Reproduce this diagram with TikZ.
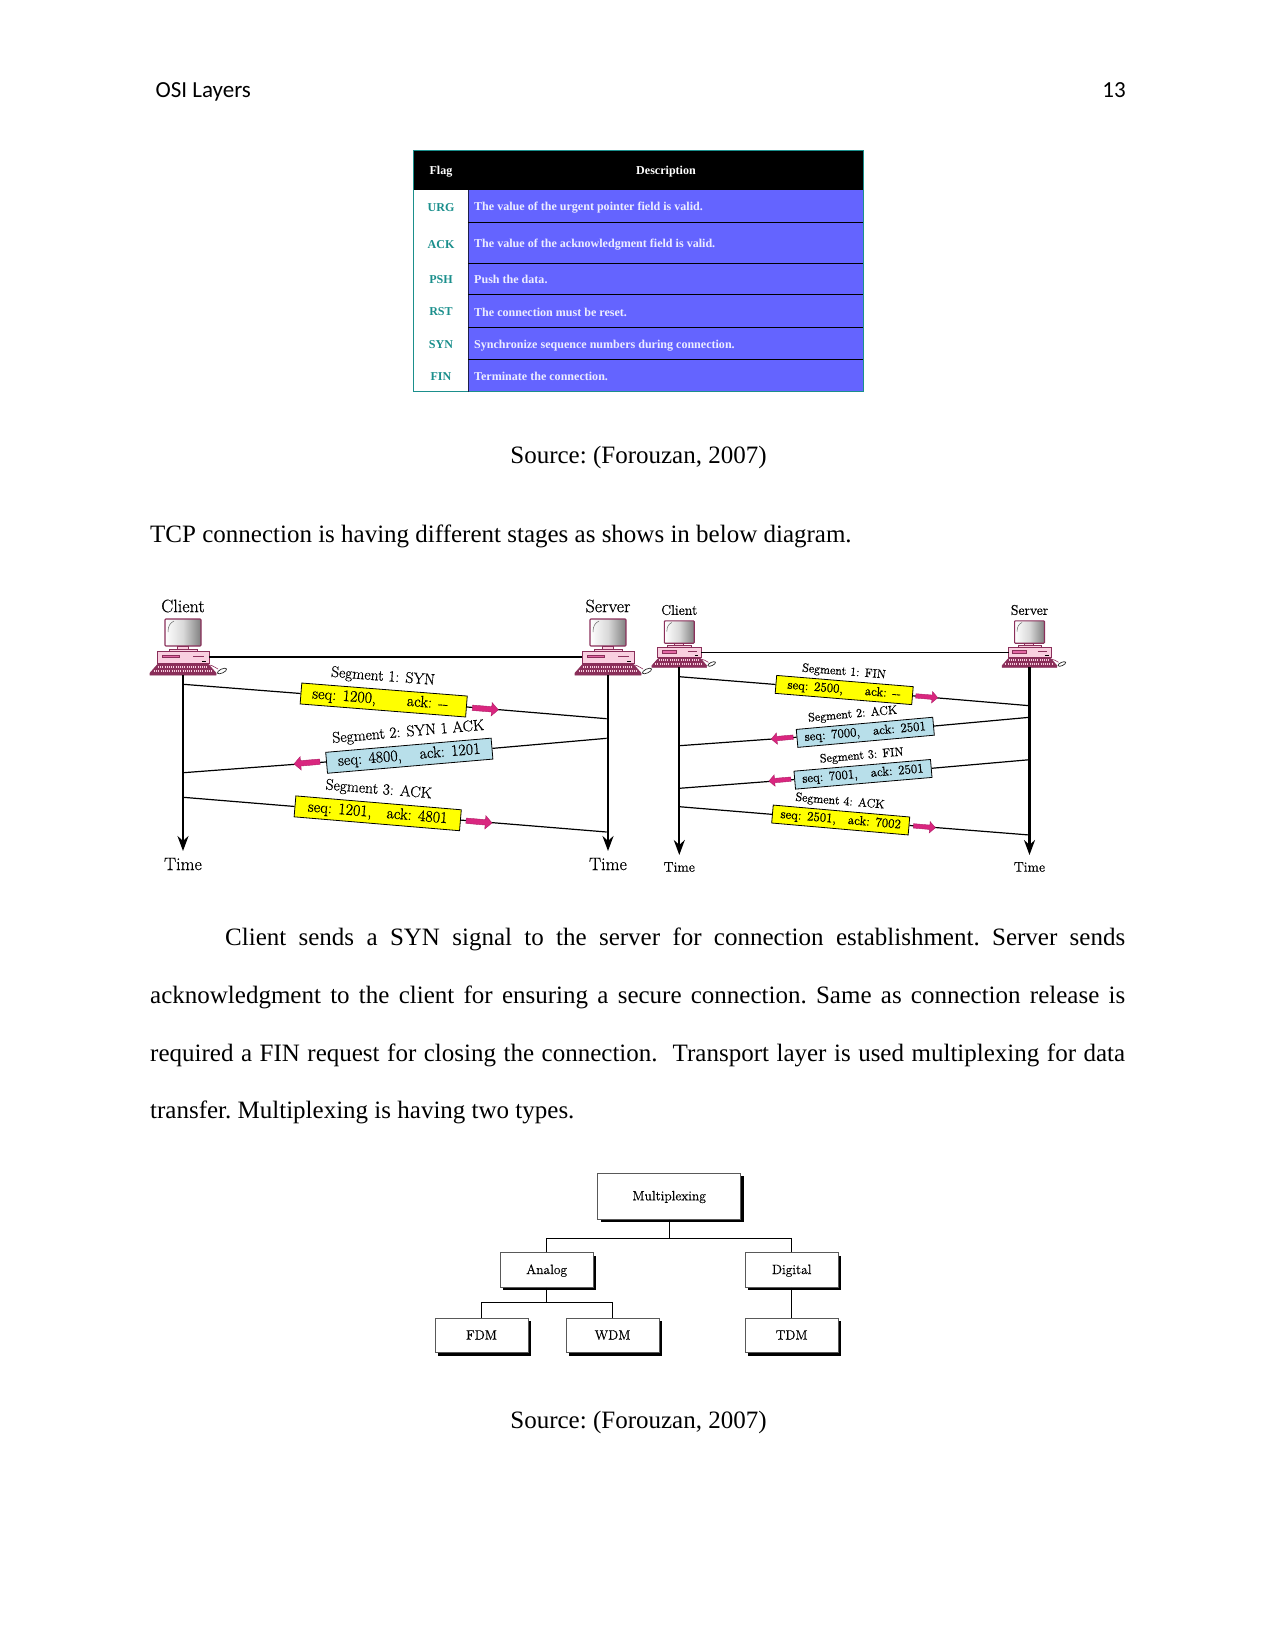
\documentclass[tikz,border=0pt]{standalone}
\usepackage{fontspec}
\usetikzlibrary{arrows.meta,shapes.arrows,shadows}
\newfontfamily\bodyfont{Liberation Serif}
\newfontfamily\headfont{Carlito}
\newfontfamily\diagfont[FakeBold=0.5]{Latin Modern Roman}
\definecolor{flagblue}{HTML}{6464FF}
\definecolor{flagteal}{HTML}{1B8F8C}
\definecolor{segyellow}{HTML}{FFFF00}
\definecolor{segblue}{HTML}{B8DFEA}
\definecolor{arrowpink}{HTML}{D9267F}
\definecolor{pcpink}{HTML}{F9CFE0}
\definecolor{pcdark}{HTML}{8A2F5A}
\tikzset{
 headtext/.style={inner sep=0pt,font=\headfont\fontsize{23}{27}\selectfont},
 bodytext/.style={inner sep=0pt,font=\frenchspacing\bodyfont\fontsize{25}{30}\selectfont},
 flagname/.style={inner sep=0pt,text=flagteal,font=\bodyfont\bfseries\fontsize{12.05}{14}\selectfont},
 flagdesc/.style={inner sep=0pt,anchor=west,text=white!88!flagblue,font=\bodyfont\bfseries\fontsize{12.05}{14}\selectfont},
 flaghead/.style={inner sep=0pt,text=white,font=\bodyfont\bfseries\fontsize{12.05}{14}\selectfont},
 bigtext/.style={inner sep=0pt,font=\diagfont\fontsize{18}{21}\selectfont},
 smalltext/.style={inner sep=0pt,font=\diagfont\fontsize{14}{17}\selectfont},
 segtext/.style={inner sep=0pt,font=\diagfont\fontsize{15.5}{18}\selectfont},
 segsmall/.style={inner sep=0pt,font=\diagfont\fontsize{12.2}{15}\selectfont},
 bigseg/.style={draw=black,line width=0.8pt,inner sep=0pt,minimum width=166pt,minimum height=21pt,font=\diagfont\fontsize{16}{18}\selectfont},
 smallseg/.style={draw=black,line width=0.8pt,inner sep=0pt,minimum width=137pt,minimum height=18pt,font=\diagfont\fontsize{13}{15}\selectfont},
 bigarrow/.style={single arrow,fill=arrowpink,draw=arrowpink!80!black,line width=0.4pt,inner sep=2.5pt,minimum height=26pt,single arrow head extend=4pt,single arrow head indent=0pt},
 smallarrow/.style={bigarrow,inner sep=2pt,minimum height=22pt,single arrow head extend=3.5pt},
 axisline/.style={line width=2.1pt,-{Stealth[length=15pt,width=11pt]}},
 thinline/.style={line width=1.2pt},
 muxbox/.style={draw=black!65,fill=white,line width=0.8pt,inner sep=0pt,minimum width=93pt,minimum height=34.5pt,text height=8pt,text depth=0pt,font=\diagfont\fontsize{13.5}{16}\selectfont,
  drop shadow={shadow xshift=3pt,shadow yshift=-3pt,fill=black,opacity=1}},
 muxline/.style={line width=1pt},
 computer/.pic={
  % monitor
  \draw[pcdark,line width=1.1pt,rounded corners=0.8pt,left color=white,right color=black!50,middle color=black!15](-18,-56) rectangle (18,-29);
  \draw[black!60,line width=0.5pt](-15,-43) .. controls (-15,-49) and (-13,-52) .. (-9,-54);
  \draw[pcdark,line width=0.7pt,fill=pcpink](-6,-29) rectangle (5,-26);
  \draw[pcdark,line width=0.7pt,fill=pcpink](-14,-26) rectangle (14,-24);
  % box
  \draw[pcdark,line width=0.7pt,fill=pcpink](-26,-24) rectangle (26,-12);
  \draw[pcdark,line width=0.5pt,fill=arrowpink!70](-21,-20) rectangle (-4,-17.5);
  \draw[pcdark,line width=1pt](10,-19)--(21,-19);
  \draw[black,line width=1pt](19,-14)--(23,-14);
  % keyboard
  \draw[pcdark,line width=0.6pt,fill=pcdark](-25,-11) -- (25,-11) -- (33,-2) -- (33,0) -- (-33,0) -- (-33,-2) -- cycle;
  \draw[pcpink,line width=2pt,dash pattern=on 1pt off 1.2pt](-25,-8.5) -- (25,-8.5);
  \draw[pcpink,line width=2pt,dash pattern=on 1pt off 1.2pt](-29,-4.5) -- (29,-4.5);
  % mouse
  \draw[pcdark,line width=0.6pt](26,-10) .. controls (30,-10) and (32,-7) .. (35,-6);
  \draw[black!85,line width=0.7pt,fill=white,rotate around={25:(39,-4)}](39,-4) ellipse (5 and 2);
 }
}
\begin{document}
\begin{tikzpicture}[x=1pt,y=-1pt]
 \useasboundingbox (0,0) rectangle (1275,1650);
 % page head
 \node[headtext,anchor=base west] (headleft) at (155.5,97) {OSI Layers};
 \node[headtext,anchor=base east] (headright) at (1126,97) {13};
 % flag table
 \fill[black](413,150) rectangle (863,190);
 \fill[flagblue](468,190) rectangle (863,391.5);
 \draw[flagteal,line width=0.9pt](413,150) rectangle (863,391.5);
 \draw[black!70!flagblue,line width=0.8pt](468,190)--(468,391.5);
 \draw[black,line width=0.7pt](468,222.5)--(863,222.5);
 \draw[black,line width=0.7pt](468,263.5)--(863,263.5);
 \draw[black,line width=0.7pt](468,294.5)--(863,294.5);
 \draw[black,line width=0.7pt](468,327.5)--(863,327.5);
 \draw[black,line width=0.7pt](468,359.5)--(863,359.5);
 \node[flaghead] (flagtitle) at (441,171.5) {Flag};
 \node[flaghead] (desctitle) at (666,171.5) {Description};
 \node[flagname] (urg) at (441,207.5) {URG};
 \node[flagname] (ack) at (441,244.5) {ACK};
 \node[flagname] (psh) at (441,279.5) {PSH};
 \node[flagname] (rst) at (441,312) {RST};
 \node[flagname] (syn) at (441,345) {SYN};
 \node[flagname] (fin) at (441,376.5) {FIN};
 \node[flagdesc] (urgtext) at (474,208) {The value of the urgent pointer field is valid.};
 \node[flagdesc] (acktext) at (474,244.5) {The value of the acknowledgment field is valid.};
 \node[flagdesc] (pshtext) at (474,279.5) {Push the data.};
 \node[flagdesc] (rsttext) at (474,312) {The connection must be reset.};
 \node[flagdesc] (syntext) at (474,346) {Synchronize sequence numbers during connection.};
 \node[flagdesc] (fintext) at (474,376.5) {Terminate the connection.};
 % running text
 \node[bodytext] (sourceone) at (638.5,457) {Source: (Forouzan, 2007)};
 \node[bodytext,anchor=base west] (stages) at (150,542) {TCP connection is having different stages as shows in below diagram.};
 \node[inner sep=0pt,anchor=north west,text width=975pt,align=justify,font=\frenchspacing\bodyfont\fontsize{25}{57.6}\selectfont] (para) at (150,928) {\hspace*{75pt}Client sends a SYN signal to the server for connection establishment. Server sends\linebreak acknowledgment to the client for ensuring a secure connection. Same as connection release is\linebreak required a FIN request for closing the connection.\ \ Transport layer is used multiplexing for data\linebreak transfer. Multiplexing is having two types.};
 \node[bodytext] (sourcetwo) at (638.5,1422) {Source: (Forouzan, 2007)};
 % connection setup
 \pic at (183,675) {computer};
 \pic at (608,675) {computer};
 \node[bigtext] (clientA) at (183,606) {Client};
 \node[bigtext] (serverA) at (608,606) {Server};
 \node[bigtext] (timeA) at (183,864) {Time};
 \node[bigtext] (timeB) at (608,864) {Time};
 \coordinate (clienttopA) at (183,675);
 \coordinate (servertopA) at (608,675);
 \coordinate (clienttipA) at (183,851);
 \coordinate (servertipA) at (608,851);
 \coordinate (lanleftA) at (209,657);
 \coordinate (lanrightA) at (582,657);
 \draw[thinline] (lanleftA) -- (lanrightA);
 \draw[axisline] (clienttopA) -- (clienttipA);
 \draw[axisline] (servertopA) -- (servertipA);
 \coordinate (a1) at (183.3,684.3);
 \coordinate (b1) at (606.7,718.7);
 \coordinate (b2) at (606.7,738.3);
 \coordinate (a2) at (183.3,772.7);
 \coordinate (a3) at (183.3,797.3);
 \coordinate (b3) at (606.7,832);
 \node[bigseg,fill=segyellow,rotate=-4.5] (segA1) at (383.7,700) {seq: 1200,\hspace{31pt}ack: --\hspace*{7pt}};
 \node[bigseg,fill=segblue,rotate=4.9] (segA2) at (409.3,755.7) {seq: 4800,\hspace{18pt}ack: 1201};
 \node[bigseg,fill=segyellow,rotate=-4.8] (segA3) at (377.7,813.3) {seq: 1201,\hspace{15pt}ack: 4801};
 \draw[thinline] (a1) -- (segA1);
 \draw[thinline] (segA1) -- (b1);
 \draw[thinline] (b2) -- (segA2);
 \draw[thinline] (segA2) -- (a2);
 \draw[thinline] (a3) -- (segA3);
 \draw[thinline] (segA3) -- (b3);
 \node[bigarrow,rotate=-4.5] (arrowA1) at (484,708.7) {};
 \node[bigarrow,rotate=184.9] (arrowA2) at (308.3,762.7) {};
 \node[bigarrow,rotate=-4.8] (arrowA3) at (477.7,821.7) {};
 \node[segtext,rotate=-4.5] (labelA1) at (383,677) {Segment 1: SYN};
 \node[segtext,rotate=4.9] (labelA2) at (408.3,732.5) {Segment 2: SYN 1 ACK};
 \node[segtext,rotate=-4.8] (labelA3) at (378.7,790) {Segment 3: ACK};
 % connection release
 \pic[scale=0.83] at (679.3,667.3) {computer};
 \pic[scale=0.83] at (1029.5,667.3) {computer};
 \node[smalltext] (clientB) at (679.3,610) {Client};
 \node[smalltext] (serverB) at (1029.5,610) {Server};
 \node[smalltext] (timeC) at (679.3,867) {Time};
 \node[smalltext] (timeD) at (1029.5,867) {Time};
 \coordinate (clienttopB) at (679.3,667.3);
 \coordinate (servertopB) at (1029.5,667.3);
 \coordinate (clienttipB) at (679.3,855);
 \coordinate (servertipB) at (1029.5,855);
 \coordinate (lanleftB) at (701,652.3);
 \coordinate (lanrightB) at (1008.5,652.3);
 \draw[thinline] (lanleftB) -- (lanrightB);
 \draw[axisline] (clienttopB) -- (clienttipB);
 \draw[axisline] (servertopB) -- (servertipB);
 \coordinate (c1) at (679.3,676.7);
 \coordinate (d1) at (1029.5,705.7);
 \coordinate (d2) at (1029.5,717.3);
 \coordinate (c2) at (679.3,745.7);
 \coordinate (d3) at (1029.5,759.7);
 \coordinate (c3) at (679.3,788.3);
 \coordinate (c4) at (679.3,806.7);
 \coordinate (d4) at (1029.5,835);
 \node[smallseg,fill=segyellow,rotate=-4.7] (segB1) at (844.2,690) {seq: 2500,\hspace{22pt}ack: --};
 \node[smallseg,fill=segblue,rotate=5.1] (segB2) at (865.3,732.3) {seq: 7000,\hspace{13pt}ack: 2501};
 \node[smallseg,fill=segblue,rotate=4.9] (segB3) at (863,774.3) {seq: 7001,\hspace{13pt}ack: 2501};
 \node[smallseg,fill=segyellow,rotate=-5] (segB4) at (840.7,820) {seq: 2501,\hspace{12pt}ack: 7002};
 \draw[thinline] (c1) -- (segB1);
 \draw[thinline] (segB1) -- (d1);
 \draw[thinline] (d2) -- (segB2);
 \draw[thinline] (segB2) -- (c2);
 \draw[thinline] (d3) -- (segB3);
 \draw[thinline] (segB3) -- (c3);
 \draw[thinline] (c4) -- (segB4);
 \draw[thinline] (segB4) -- (d4);
 \node[smallarrow,rotate=-4.7] (arrowB1) at (925.7,696.7) {};
 \node[smallarrow,rotate=185.1] (arrowB2) at (783.3,738) {};
 \node[smallarrow,rotate=184.9] (arrowB3) at (781,780) {};
 \node[smallarrow,rotate=-5] (arrowB4) at (923.3,826.7) {};
 \node[segsmall,rotate=-4.7] (labelB1) at (844,672) {Segment 1: FIN};
 \node[segsmall,rotate=5.1] (labelB2) at (852.7,714.5) {Segment 2: ACK};
 \node[segsmall,rotate=4.9] (labelB3) at (861.7,756) {Segment 3: FIN};
 \node[segsmall,rotate=-5] (labelB4) at (840,801.5) {Segment 4: ACK};
 % multiplexing tree
 \node[muxbox,minimum width=143pt,minimum height=46pt] (mux) at (669.2,1196.3) {Multiplexing};
 \node[muxbox] (analog) at (546.7,1270) {Analog};
 \node[muxbox] (digital) at (791.7,1270) {Digital};
 \node[muxbox] (fdm) at (481.5,1335.5) {FDM};
 \node[muxbox] (wdm) at (612.5,1335.5) {WDM};
 \node[muxbox] (tdm) at (791.7,1335.5) {TDM};
 \coordinate (busup) at (669.2,1238.7);
 \coordinate (buslow) at (546.7,1302.7);
 \draw[muxline] (mux.south) -- (busup);
 \draw[muxline] (analog.north) |- (busup) -| (digital.north);
 \draw[muxline] (analog.south) -- (buslow);
 \draw[muxline] (fdm.north) |- (buslow) -| (wdm.north);
 \draw[muxline] (digital.south) -- (tdm.north);
\end{tikzpicture}
\end{document}
